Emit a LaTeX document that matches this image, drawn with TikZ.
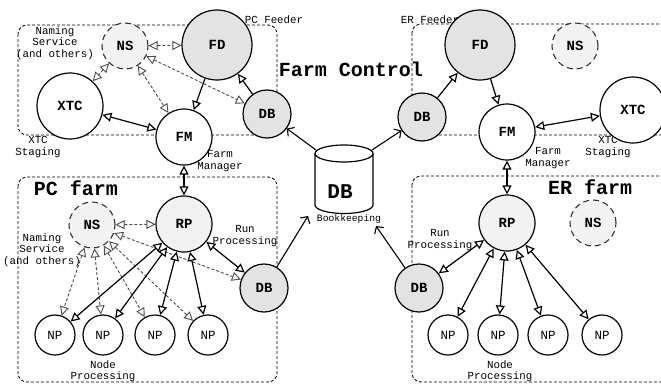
\documentclass[tikz,border=0pt]{standalone}
\usepackage{fontspec}
\setmainfont{Liberation Mono}
\usetikzlibrary{arrows.meta}
\begin{document}
\begin{tikzpicture}[x=1pt,y=-1pt,
  every node/.style={inner sep=0pt},
  >={Triangle[fill=white,length=9pt,width=9pt]},
  region/.style={draw, line width=0.8pt, dash pattern=on 3pt off 2pt, rounded corners=9pt},
  unit/.style={circle, draw, line width=1.2pt, fill=white, minimum size=#1,
    font=\fontsize{14}{14}\selectfont\bfseries},
  shaded/.style={unit=#1, fill=gray!22},
  nsnode/.style={circle, draw=gray!40!black, dash pattern=on 6pt off 4pt, line width=1.1pt,
    fill=gray!10, minimum size=46pt, font=\fontsize{14}{14}\selectfont\bfseries},
  np/.style={unit=40pt, font=\fontsize{12.5}{12.5}\selectfont},
  link/.style={line width=1.2pt, <->},
  flow/.style={line width=1.2pt, ->},
  nslink/.style={draw=gray!60!black, line width=0.9pt, dash pattern=on 3pt off 2pt, <->},
  feed/.style={line width=1.1pt, -{Straight Barb[length=5pt,width=11pt]}},
  lab/.style={font=\fontsize{10.8}{11.5}\selectfont, align=center},
  title/.style={font=\fontsize{20}{20}\selectfont\bfseries}
]
\useasboundingbox[fill=white] (0,0) rectangle (661,383);

% dashed regions
\draw[region] (18,25) rectangle (277,135);
\draw[region] (412,24) rectangle (720,135);
\draw[region] (18,177) rectangle (277,382);
\draw[region] (412,176) rectangle (720,382);

% captions
\node[title] (tctl) at (351,69) {Farm Control};
\node[title] (tpc) at (76,188) {PC farm};
\node[title] (ter) at (590,187) {ER farm};
\node[lab] (lnsA) at (55,43) {Naming\\Service\\(and others)};
\node[lab] (lxtcA) at (38,147) {XTC\\Staging};
\node[lab] (lpcf) at (274,20) {PC Feeder};
\node[lab] (lfmA) at (220,161) {Farm\\Manager};
\node[lab] (lerf) at (430,20) {ER Feeder};
\node[lab] (lfmB) at (548,158) {Farm\\Manager};
\node[lab] (lxtcB) at (608,147) {XTC\\Staging};
\node[lab] (lnsP) at (42,250) {Naming\\Service\\(and others)};
\node[lab] (lrpA) at (245,236) {Run\\Processing};
\node[lab] (lnpA) at (103,371) {Node\\Processing};
\node[lab] (lrpB) at (440,240) {Run\\Processing};
\node[lab] (lnpB) at (500,371) {Node\\Processing};

% bookkeeping database cylinder
\draw[line width=1.2pt, fill=white] (315,153.5) -- (315,205)
  arc[start angle=180, end angle=0, x radius=29, y radius=8.5] -- (373,153.5);
\draw[line width=1.2pt, fill=white] (344,153.5) ellipse[x radius=29, y radius=8.5];
\node[font=\fontsize{21}{21}\selectfont\bfseries] (bk) at (340,192) {DB};
\node[font=\fontsize{9.7}{10}\selectfont] (lbk) at (349,219) {Bookkeeping};
\coordinate (cylTL) at (316,150);
\coordinate (cylTR) at (372,150);
\coordinate (bkL) at (308,216);
\coordinate (bkR) at (376,226);

% farm control, PC side
\node[shaded=70pt] (fdL) at (217,45) {FD};
\node[nsnode] (nsL) at (125,46) {NS};
\node[unit=66pt] (xtcL) at (70,106) {XTC};
\node[unit=56pt] (fmL) at (184,137) {FM};
\node[shaded=48pt] (dbL) at (267,114) {DB};

% farm control, ER side
\node[shaded=70pt] (fdR) at (480,45) {FD};
\node[nsnode] (nsR) at (575,46) {NS};
\node[unit=66pt] (xtcR) at (633,110) {XTC};
\node[unit=56pt] (fmR) at (507,132) {FM};
\node[shaded=48pt] (dbR) at (422,117) {DB};

% PC farm
\node[unit=56pt, fill=gray!10] (rpP) at (184,224) {RP};
\node[nsnode] (nsP) at (92,225) {NS};
\node[shaded=48pt] (dbP) at (264,288) {DB};
\node[np] (np1) at (55,335) {NP};
\node[np] (np2) at (103,335) {NP};
\node[np] (np3) at (155,335) {NP};
\node[np] (np4) at (208,335) {NP};

% ER farm
\node[unit=56pt, fill=gray!10] (rpE) at (507,223) {RP};
\node[nsnode] (nsE) at (593,223) {NS};
\node[shaded=48pt] (dbE) at (419,288) {DB};
\node[np] (np5) at (448,335) {NP};
\node[np] (np6) at (498,335) {NP};
\node[np] (np7) at (548,335) {NP};
\node[np] (np8) at (602,335) {NP};

% naming service links
\draw[nslink] (nsL) -- (xtcL);
\draw[nslink] (nsL) -- (fdL);
\draw[nslink] (nsL) -- (fmL);
\draw[nslink] (nsL) -- (dbL);
\draw[nslink] (nsP) -- (rpP);
\draw[nslink] (nsP) -- (dbP);
\foreach \n in {np1,np2,np3,np4} \draw[nslink] (nsP) -- (\n);

% control links, PC side
\draw[link] (xtcL) -- (fmL);
\draw[flow] (fdL) -- (fmL);
\draw[flow] (dbL) -- (fdL);
\draw[link] (fmL) -- (rpP);
\draw[link] (rpP) -- (dbP);
\foreach \n in {np1,np2,np3,np4} \draw[link] (rpP) -- (\n);

% control links, ER side
\draw[flow] (dbR) -- (fdR);
\draw[flow] (fdR) -- (fmR);
\draw[link] (fmR) -- (xtcR);
\draw[link] (fmR) -- (rpE);
\draw[link] (rpE) -- (dbE);
\foreach \n in {np5,np6,np7,np8} \draw[link] (rpE) -- (\n);

% bookkeeping traffic
\draw[feed] (cylTL) -- (dbL);
\draw[feed] (cylTR) -- (dbR);
\draw[feed] (dbP) -- (bkL);
\draw[feed] (dbE) -- (bkR);
\end{tikzpicture}
\end{document}
